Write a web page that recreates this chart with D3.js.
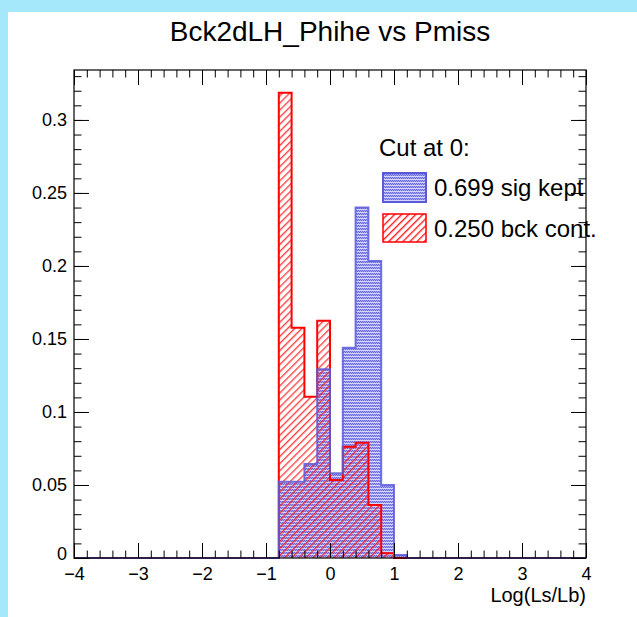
<!DOCTYPE html>
<html>
<head>
<meta charset="utf-8">
<script src="https://cdn.jsdelivr.net/npm/d3@7"></script>
<style>
  body { margin: 0; background: #fff; }
  text { font-family: "Liberation Sans", Arial, sans-serif; fill: #000; }
</style>
</head>
<body>
<div id="chart"></div>
<script>
// bin lower edges (width 0.2) that have entries, everything else is 0
const binEdges = [-0.8, -0.6, -0.4, -0.2, 0.0, 0.2, 0.4, 0.6, 0.8, 1.0];
const sigValues = [0.0523, 0.0523, 0.0644, 0.1292, 0.058, 0.144, 0.240, 0.2034, 0.050, 0.002];
const bckValues = [0.3187, 0.1577, 0.1105, 0.1625, 0.0534, 0.0762, 0.079, 0.0363, 0.0033, 0];
const xTicks = [-4, -3, -2, -1, 0, 1, 2, 3, 4];
const yTicks = [0, 0.05, 0.1, 0.15, 0.2, 0.25, 0.3];
const legendLabels = ["Cut at 0:", "0.699 sig kept", "0.250 bck cont."];

const width = 637, height = 617;
const frame = { left: 74, right: 586, top: 70, bottom: 558 };
const binWidth = 0.2;
const xMin = -4, xMax = 4, yMax = 0.3342;

const svg = d3.select('#chart').append('svg')
    .attr('width', width)
    .attr('height', height);

// canvas edge bands
svg.append('rect').attr('x', 0).attr('y', 0).attr('width', width).attr('height', 12).attr('fill', '#a5e8fc');
svg.append('rect').attr('x', 0).attr('y', 0).attr('width', 8).attr('height', height).attr('fill', '#a5e8fc');

const defs = svg.append('defs');

// blue dotted fill
const dots = defs.append('pattern')
    .attr('id', 'dots')
    .attr('patternUnits', 'userSpaceOnUse')
    .attr('width', 2).attr('height', 3);
dots.append('rect').attr('width', 2).attr('height', 3).attr('fill', '#a4a4f2');
dots.append('rect').attr('x', 0).attr('y', 0).attr('width', 1).attr('height', 1).attr('fill', '#6a6ae3');
dots.append('rect').attr('x', 1).attr('y', 1).attr('width', 1).attr('height', 1).attr('fill', '#6a6ae3');
dots.append('rect').attr('x', 0).attr('y', 2).attr('width', 2).attr('height', 1).attr('fill', '#d6d6fa');

// red hatch
const hatch = defs.append('pattern')
    .attr('id', 'hatch')
    .attr('patternUnits', 'userSpaceOnUse')
    .attr('width', 5).attr('height', 5)
    .attr('patternTransform', 'rotate(45)');
hatch.append('line')
    .attr('x1', 0.7).attr('y1', 0).attr('x2', 0.7).attr('y2', 5)
    .attr('stroke', '#ff1010').attr('stroke-width', 1.3);

const x = d3.scaleLinear().domain([xMin, xMax]).range([frame.left, frame.right]);
const y = d3.scaleLinear().domain([0, yMax]).range([frame.bottom, frame.top]);

// full histograms over the axis range
function fullHist(values) {
    const n = Math.round((xMax - xMin) / binWidth);
    const bins = d3.range(n).map(i => {
        const lo = +(xMin + i * binWidth).toFixed(1);
        const k = binEdges.findIndex(e => Math.abs(e - lo) < 1e-6);
        return { lo: lo, v: k >= 0 ? values[k] : 0 };
    });
    bins.push({ lo: xMax, v: bins[bins.length - 1].v });
    return bins;
}

const area = d3.area()
    .curve(d3.curveStepAfter)
    .x(d => x(d.lo))
    .y0(y(0))
    .y1(d => y(d.v));
const line = d3.line()
    .curve(d3.curveStepAfter)
    .x(d => x(d.lo))
    .y(d => y(d.v));

const bck = fullHist(bckValues);
const sig = fullHist(sigValues);

svg.append('path').attr('d', area(sig)).attr('fill', 'url(#dots)');
svg.append('path').attr('d', area(bck)).attr('fill', 'url(#hatch)').attr('opacity', 0.85);
svg.append('path').attr('d', line(bck)).attr('fill', 'none').attr('stroke', '#ff0000').attr('stroke-width', 2);
svg.append('path').attr('d', line(sig)).attr('fill', 'none').attr('stroke', '#5a5ad8').attr('stroke-width', 2).attr('opacity', 0.85);

// frame
svg.append('rect')
    .attr('x', frame.left).attr('y', frame.top)
    .attr('width', frame.right - frame.left).attr('height', frame.bottom - frame.top)
    .attr('fill', 'none').attr('stroke', '#000').attr('stroke-width', 1.2);

const xMinor = d3.range(-40, 41, 2).map(v => v / 10);
const yMinor = d3.range(0, 34).map(v => v / 100);

function styleAxis(g) {
    g.select('.domain').remove();
    g.selectAll('.tick line').attr('stroke', '#000').attr('stroke-width', 1);
    g.selectAll('.tick text').style('font-size', '18px');
}

// bottom
svg.append('g').attr('transform', `translate(0,${frame.bottom})`)
    .call(d3.axisBottom(x).tickValues(xMinor).tickSize(-7.5).tickFormat(''))
    .call(styleAxis);
svg.append('g').attr('transform', `translate(0,${frame.bottom})`)
    .call(d3.axisBottom(x).tickValues(xTicks).tickSize(-15).tickPadding(9).tickFormat(d3.format('d')))
    .call(styleAxis);
// top
svg.append('g').attr('transform', `translate(0,${frame.top})`)
    .call(d3.axisTop(x).tickValues(xMinor).tickSize(-7.5).tickFormat(''))
    .call(styleAxis);
svg.append('g').attr('transform', `translate(0,${frame.top})`)
    .call(d3.axisTop(x).tickValues(xTicks).tickSize(-15).tickFormat(''))
    .call(styleAxis);
// left
svg.append('g').attr('transform', `translate(${frame.left},0)`)
    .call(d3.axisLeft(y).tickValues(yMinor).tickSize(-7.5).tickFormat(''))
    .call(styleAxis);
const yAxisG = svg.append('g').attr('transform', `translate(${frame.left},0)`)
    .call(d3.axisLeft(y).tickValues(yTicks).tickSize(-15).tickPadding(7).tickFormat(d => d === 0 ? '0' : d3.format('')(d)))
    .call(styleAxis);
// lift the "0" label a little so it clears the x labels
yAxisG.selectAll('.tick text').filter(d => d === 0).attr('dy', '0.1em');
// right
svg.append('g').attr('transform', `translate(${frame.right},0)`)
    .call(d3.axisRight(y).tickValues(yMinor).tickSize(-7.5).tickFormat(''))
    .call(styleAxis);
svg.append('g').attr('transform', `translate(${frame.right},0)`)
    .call(d3.axisRight(y).tickValues(yTicks).tickSize(-15).tickFormat(''))
    .call(styleAxis);

// title and axis label
svg.append('text')
    .attr('x', 330).attr('y', 41)
    .attr('text-anchor', 'middle')
    .style('font-size', '28px')
    .text('Bck2dLH_Phihe vs Pmiss');

svg.append('text')
    .attr('x', frame.right).attr('y', 602)
    .attr('text-anchor', 'end')
    .style('font-size', '20px')
    .text('Log(Ls/Lb)');

// legend
const legend = svg.append('g');
legend.append('text').attr('x', 379).attr('y', 156).style('font-size', '24px').text(legendLabels[0]);
legend.append('rect').attr('x', 383).attr('y', 173).attr('width', 43).attr('height', 29)
    .attr('fill', 'url(#dots)').attr('stroke', '#5a5ad8').attr('stroke-width', 2);
legend.append('text').attr('x', 434).attr('y', 196).style('font-size', '24px').text(legendLabels[1]);
legend.append('rect').attr('x', 383).attr('y', 214).attr('width', 43).attr('height', 28)
    .attr('fill', 'url(#hatch)').attr('stroke', '#ff0000').attr('stroke-width', 1.5);
legend.append('text').attr('x', 434).attr('y', 237).style('font-size', '24px').text(legendLabels[2]);
</script>
</body>
</html>
